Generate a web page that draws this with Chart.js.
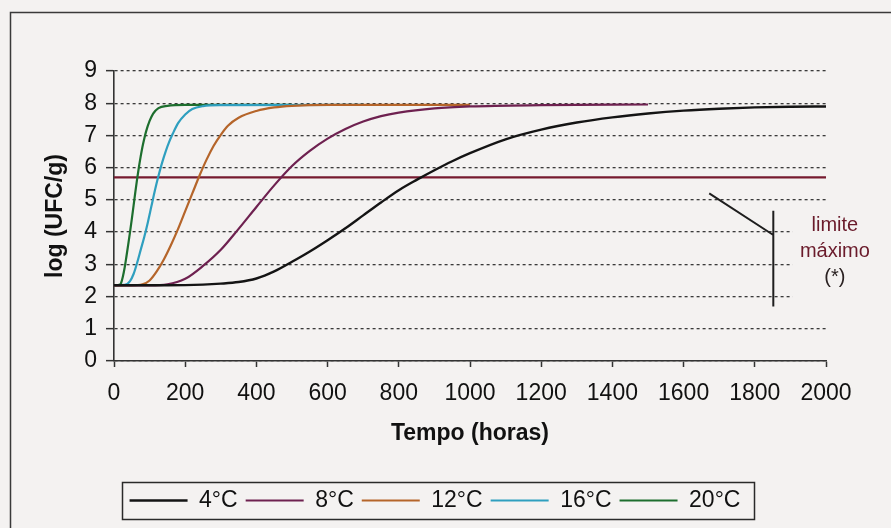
<!DOCTYPE html>
<html>
<head>
<meta charset="utf-8">
<script src="https://cdn.jsdelivr.net/npm/chart.js@4.4.1/dist/chart.umd.min.js"></script>
<style>
  html, body { margin: 0; padding: 0; background: #f4f2f1; }
  #wrap { width: 891px; height: 528px; position: relative; }
</style>
</head>
<body>
<div id="wrap"><canvas id="c" width="891" height="528"></canvas></div>
<script>
// Growth curves: log (UFC/g) against time in hours, one series per storage temperature
const seriesNames = ['4°C', '8°C', '12°C', '16°C', '20°C'];

const hours4 = [0, 150, 250, 300, 350, 400, 450, 500, 550, 600, 650, 700, 750, 800, 850, 900, 950, 1000, 1100, 1200, 1300, 1400, 1500, 1600, 1700, 1800, 1900, 2000];
const log4   = [2.35, 2.35, 2.37, 2.4, 2.45, 2.56, 2.78, 3.08, 3.4, 3.75, 4.12, 4.52, 4.92, 5.3, 5.62, 5.92, 6.2, 6.45, 6.88, 7.18, 7.4, 7.56, 7.68, 7.77, 7.83, 7.87, 7.89, 7.9];

const hours8 = [0, 100, 150, 200, 250, 300, 350, 400, 450, 500, 550, 600, 650, 700, 750, 800, 900, 1000, 1200, 1500];
const log8   = [2.35, 2.35, 2.38, 2.55, 2.95, 3.45, 4.1, 4.78, 5.45, 6.05, 6.52, 6.9, 7.2, 7.43, 7.6, 7.71, 7.84, 7.9, 7.94, 7.96];

const hours12 = [0, 50, 80, 100, 120, 140, 160, 180, 200, 220, 240, 260, 280, 300, 320, 350, 400, 450, 500, 600, 1000];
const log12   = [2.35, 2.35, 2.38, 2.5, 2.78, 3.15, 3.6, 4.1, 4.65, 5.2, 5.75, 6.25, 6.68, 7.02, 7.3, 7.55, 7.76, 7.87, 7.92, 7.95, 7.95];

const hours16 = [0, 30, 45, 55, 65, 75, 85, 95, 105, 115, 125, 135, 145, 155, 165, 180, 200, 220, 250, 300, 700];
const log16   = [2.35, 2.36, 2.48, 2.7, 3.05, 3.45, 3.85, 4.3, 4.8, 5.3, 5.75, 6.15, 6.5, 6.8, 7.05, 7.38, 7.65, 7.82, 7.91, 7.94, 7.95];

const hours20 = [0, 15, 20, 25, 30, 35, 40, 45, 50, 55, 60, 65, 70, 75, 80, 85, 90, 100, 110, 125, 150, 200, 500];
const log20   = [2.35, 2.36, 2.42, 2.62, 2.9, 3.25, 3.62, 4, 4.4, 4.82, 5.25, 5.65, 6.02, 6.35, 6.65, 6.9, 7.12, 7.45, 7.68, 7.85, 7.92, 7.95, 7.95];

// Maximum limit line
const limitHours = [0, 2000];
const limitLog   = [5.7, 5.7];

// Axis ticks
const xTicks = [0, 200, 400, 600, 800, 1000, 1200, 1400, 1600, 1800, 2000];
const yTicks = [0, 1, 2, 3, 4, 5, 6, 7, 8, 9];

// Bracket pointing at the limit line, and its caption (data units)
const bracketDiagHours = [1672, 1852];
const bracketDiagLog   = [5.2, 3.91];
const bracketVertHours = [1852, 1852];
const bracketVertLog   = [4.66, 1.69];
const captionLines = ['limite', 'máximo', '(*)'];
const captionHour  = 2025;
const captionLog   = [4.22, 3.39, 2.58];
// Caption text box extent (hours, log)
const captionBoxHours = [1905, 2200];
const captionBoxLog   = [4.75, 1.6];

const FONT = 'Arial, "Liberation Sans", sans-serif';
const PAGE = '#f4f2f1';

function pts(xs, ys) { return xs.map((x, i) => ({ x: x, y: ys[i] })); }

const lineColors = ['#141414', '#6e2150', '#b5652a', '#2f9fbf', '#1d6e2e'];
const seriesData = [pts(hours4, log4), pts(hours8, log8), pts(hours12, log12), pts(hours16, log16), pts(hours20, log20)];

const datasets = seriesData.map((d, i) => ({
  label: seriesNames[i],
  data: d,
  borderColor: lineColors[i],
  backgroundColor: lineColors[i],
  borderWidth: i === 0 ? 2.4 : 2.2,
  pointRadius: 0,
  cubicInterpolationMode: 'monotone',
  fill: false
}));
datasets.push({
  label: 'limite',
  data: pts(limitHours, limitLog),
  borderColor: '#761a2f',
  backgroundColor: '#761a2f',
  borderWidth: 2.2,
  pointRadius: 0,
  fill: false
});

const decorPlugin = {
  id: 'decor',
  beforeDraw(chart) {
    const ctx = chart.ctx;
    ctx.save();
    ctx.fillStyle = PAGE;
    ctx.fillRect(0, 0, chart.width, chart.height);
    ctx.strokeStyle = '#3a3a3a';
    ctx.lineWidth = 1.5;
    ctx.strokeRect(10.5, 12.5, 1000, 1000);
    ctx.restore();
  },
  afterDraw(chart) {
    const ctx = chart.ctx;
    const xs = chart.scales.x, ys = chart.scales.y;
    ctx.save();
    // caption box (opaque, hides the grid behind the text)
    const bx0 = xs.getPixelForValue(captionBoxHours[0]), bx1 = xs.getPixelForValue(captionBoxHours[1]);
    const by0 = ys.getPixelForValue(captionBoxLog[0]), by1 = ys.getPixelForValue(captionBoxLog[1]);
    ctx.fillStyle = PAGE;
    ctx.fillRect(bx0, by0, bx1 - bx0, by1 - by0);
    // bracket
    ctx.strokeStyle = '#1e1e1e';
    ctx.lineWidth = 2;
    ctx.beginPath();
    ctx.moveTo(xs.getPixelForValue(bracketDiagHours[0]), ys.getPixelForValue(bracketDiagLog[0]));
    ctx.lineTo(xs.getPixelForValue(bracketDiagHours[1]), ys.getPixelForValue(bracketDiagLog[1]));
    ctx.moveTo(xs.getPixelForValue(bracketVertHours[0]), ys.getPixelForValue(bracketVertLog[0]));
    ctx.lineTo(xs.getPixelForValue(bracketVertHours[1]), ys.getPixelForValue(bracketVertLog[1]));
    ctx.stroke();
    // caption
    ctx.font = '20px ' + FONT;
    ctx.textAlign = 'center';
    ctx.textBaseline = 'middle';
    captionLines.forEach((t, i) => {
      ctx.fillStyle = i < 2 ? '#6a1b2b' : '#2a2222';
      ctx.fillText(t, xs.getPixelForValue(captionHour), ys.getPixelForValue(captionLog[i]));
    });
    // legend frame
    const boxes = chart.legend.legendHitBoxes;
    if (boxes && boxes.length) {
      let l = Infinity, r = -Infinity, cy = 0;
      boxes.forEach(b => { l = Math.min(l, b.left); r = Math.max(r, b.left + b.width); cy = b.top + b.height / 2; });
      ctx.strokeStyle = '#2a2a2a';
      ctx.lineWidth = 1.5;
      ctx.strokeRect(Math.round(l - 8) + 0.5, Math.round(cy - 18.5) + 0.5, Math.round(r - l + 21), 37);
    }
    ctx.restore();
  }
};

new Chart(document.getElementById('c'), {
  type: 'line',
  data: { datasets: datasets },
  options: {
    responsive: false,
    animation: false,
    events: [],
    layout: { padding: { left: 44, right: 65, top: 71, bottom: 6 } },
    scales: {
      x: {
        type: 'linear',
        min: 0, max: 2000,
        afterBuildTicks(scale) { scale.ticks = xTicks.map(v => ({ value: v })); },
        afterFit(scale) { scale.height = 120; },
        ticks: { color: '#111', font: { family: FONT, size: 23 }, padding: 13, maxRotation: 0, autoSkip: false, callback: v => String(v) },
        grid: { drawOnChartArea: false, drawTicks: true, tickLength: 6, tickColor: '#333', tickWidth: 1.5 },
        border: { display: true, color: '#333', width: 1.6 },
        title: { display: true, text: 'Tempo (horas)', color: '#111', font: { family: FONT, size: 23, weight: 'bold' }, padding: { top: 0, bottom: 34 } }
      },
      y: {
        type: 'linear',
        min: 0, max: 9,
        afterBuildTicks(scale) { scale.ticks = yTicks.map(v => ({ value: v })); },
        afterFit(scale) { scale.width = 70; },
        ticks: { color: '#111', font: { family: FONT, size: 23 }, padding: 9, callback: v => String(v) },
        grid: { color: '#3a3a3a', lineWidth: 1.3, tickLength: 8, tickColor: '#333', tickWidth: 1.5, tickBorderDash: [] },
        border: { display: true, color: '#333', width: 1.6, dash: [3, 3] },
        title: { display: true, text: 'log (UFC/g)', color: '#111', font: { family: FONT, size: 23, weight: 'bold', lineHeight: 1 }, padding: { top: 0, bottom: 0 } }
      }
    },
    plugins: {
      legend: {
        position: 'bottom',
        labels: {
          filter: item => item.datasetIndex < seriesNames.length,
          usePointStyle: true,
          pointStyle: 'line',
          pointStyleWidth: 58,
          padding: 8,
          color: '#111',
          font: { family: FONT, size: 23 }
        }
      },
      tooltip: { enabled: false }
    }
  },
  plugins: [decorPlugin]
});
</script>
</body>
</html>
